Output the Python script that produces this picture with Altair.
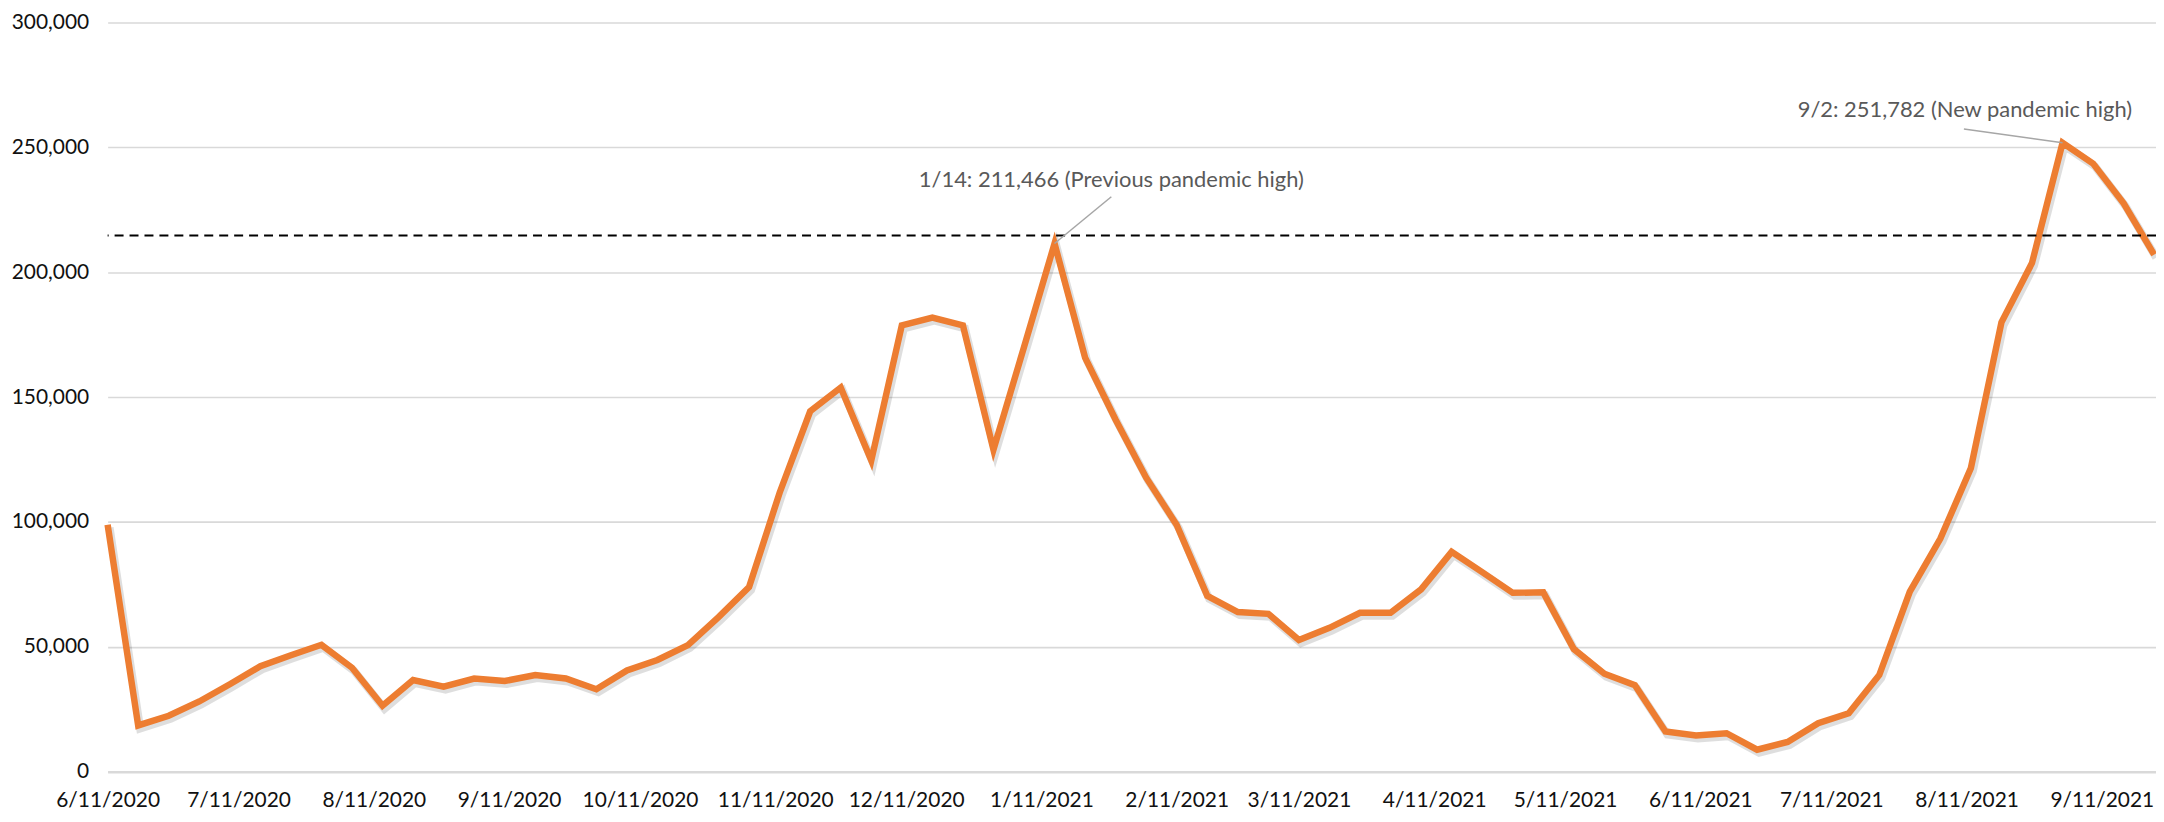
import altair as alt
import pandas as pd

# ---------------- data ----------------
dates = [
    "2020-06-11", "2020-06-18", "2020-06-25", "2020-07-02", "2020-07-09", "2020-07-16",
    "2020-07-23", "2020-07-30", "2020-08-06", "2020-08-13", "2020-08-20", "2020-08-27",
    "2020-09-03", "2020-09-10", "2020-09-17", "2020-09-24", "2020-10-01", "2020-10-08",
    "2020-10-15", "2020-10-22", "2020-10-29", "2020-11-05", "2020-11-12", "2020-11-19",
    "2020-11-26", "2020-12-03", "2020-12-10", "2020-12-17", "2020-12-24", "2020-12-31",
    "2021-01-07", "2021-01-14", "2021-01-21", "2021-01-28", "2021-02-04", "2021-02-11",
    "2021-02-18", "2021-02-25", "2021-03-04", "2021-03-11", "2021-03-18", "2021-03-25",
    "2021-04-01", "2021-04-08", "2021-04-15", "2021-04-22", "2021-04-29", "2021-05-06",
    "2021-05-13", "2021-05-20", "2021-05-27", "2021-06-03", "2021-06-10", "2021-06-17",
    "2021-06-24", "2021-07-01", "2021-07-08", "2021-07-15", "2021-07-22", "2021-07-29",
    "2021-08-05", "2021-08-12", "2021-08-19", "2021-08-26", "2021-09-02", "2021-09-09",
    "2021-09-16", "2021-09-23",
]
values = [
    98900, 18500, 22400, 28100, 35000, 42200,
    46600, 50800, 41600, 26400, 36700, 34000,
    37300, 36300, 38700, 37300, 33000, 40500,
    44700, 50700, 61900, 73900, 111700, 144300,
    153800, 124600, 178700, 181800, 178700, 128900,
    170000, 211466, 165800, 140900, 117700, 98800,
    70400, 63900, 63200, 52700, 57600, 63600,
    63600, 73000, 88000, 79900, 71600, 71800,
    49100, 39200, 34600, 16100, 14500, 15400,
    8800, 11900, 19400, 23400, 38700, 72100,
    93300, 121600, 179900, 203700, 251782, 243500,
    227600, 207000,
]

x_tick_dates = [
    "2020-06-11", "2020-07-11", "2020-08-11", "2020-09-11", "2020-10-11", "2020-11-11",
    "2020-12-11", "2021-01-11", "2021-02-11", "2021-03-11", "2021-04-11", "2021-05-11",
    "2021-06-11", "2021-07-11", "2021-08-11", "2021-09-11",
]
x_domain = ["2020-06-11", "2021-09-23T10:00:00"]
y_ticks = [0, 50000, 100000, 150000, 200000, 250000, 300000]

reference_level = [214700]

ann_dates = ["2021-01-14", "2021-09-02"]
ann_values = [211466, 251782]
ann_labels = ["1/14: 211,466 (Previous pandemic high)", "9/2: 251,782 (New pandemic high)"]

# ---------------- helpers ----------------
def ms(s):
    return int(pd.Timestamp(s, tz="UTC").value // 10**6)

df = pd.DataFrame({"date": [ms(d) for d in dates], "value": values})
ref_df = pd.DataFrame({"value": reference_level})
ann_df = pd.DataFrame({"date": [ms(d) for d in ann_dates], "value": ann_values, "label": ann_labels})

FONT = "Lato"
ORANGE = "#ED7D31"

X_SCALE = alt.Scale(type="utc", domain=[ms(d) for d in x_domain], nice=False)
Y_SCALE = alt.Scale(domain=[0, 300000], nice=False)

X_AXIS = alt.Axis(
    values=[ms(d) for d in x_tick_dates],
    labelExpr="utcFormat(datum.value, '%-m/%-d/%Y')",
    title=None,
    grid=False,
    ticks=False,
    domain=True,
    domainColor="#D9D9D9",
    domainWidth=2.5,
    labelFont=FONT,
    labelFontSize=21,
    labelColor="#111111",
    labelPadding=18,
    labelFlush=False,
    labelOverlap=False,
)
Y_AXIS = alt.Axis(
    values=y_ticks,
    labelExpr="format(datum.value, ',')",
    title=None,
    grid=True,
    gridColor="#D9D9D9",
    gridWidth=1.6,
    ticks=False,
    domain=False,
    labelFont=FONT,
    labelFontSize=21,
    labelColor="#111111",
    labelPadding=19,
)


def xe():
    return alt.X("date:Q", scale=X_SCALE, axis=X_AXIS)


def ye():
    return alt.Y("value:Q", scale=Y_SCALE, axis=Y_AXIS)


base = alt.Chart(df)

shadow = base.mark_line(
    color="black", opacity=0.13, strokeWidth=8, xOffset=2, yOffset=3, strokeJoin="miter"
).encode(x=xe(), y=ye())

line = base.mark_line(color=ORANGE, strokeWidth=6.5, strokeJoin="miter").encode(x=xe(), y=ye())

ref_rule = alt.Chart(ref_df).mark_rule(
    color="black", strokeWidth=2, strokeDash=[9, 6]
).encode(y=ye())

ann1 = ann_df.iloc[[0]]
ann2 = ann_df.iloc[[1]]

leader1 = alt.Chart(ann1).mark_rule(
    color="#A6A6A6", strokeWidth=1.5, x2Offset=57, y2Offset=-47
).encode(x=xe(), y=ye(), x2="date:Q", y2="value:Q")
leader2 = alt.Chart(ann2).mark_rule(
    color="#A6A6A6", strokeWidth=1.5, x2Offset=-99, y2Offset=-14
).encode(x=xe(), y=ye(), x2="date:Q", y2="value:Q")

text1 = alt.Chart(ann1).mark_text(
    font=FONT, fontSize=22, color="#595959", align="center", baseline="middle", dx=57, dy=-64
).encode(x=xe(), y=ye(), text="label:N")
text2 = alt.Chart(ann2).mark_text(
    font=FONT, fontSize=22, color="#595959", align="center", baseline="middle", dx=-98, dy=-33
).encode(x=xe(), y=ye(), text="label:N")

chart = (
    alt.layer(shadow, line, ref_rule, leader1, leader2, text1, text2)
    .properties(
        width=2056,
        height=752,
        autosize=alt.AutoSizeParams(type="none"),
        padding={"left": 100, "top": 13, "right": 0, "bottom": 40},
        background="white",
    )
    .configure_view(stroke=None)
)

chart.save("out.html", embed_options={"renderer": "svg", "actions": False})
